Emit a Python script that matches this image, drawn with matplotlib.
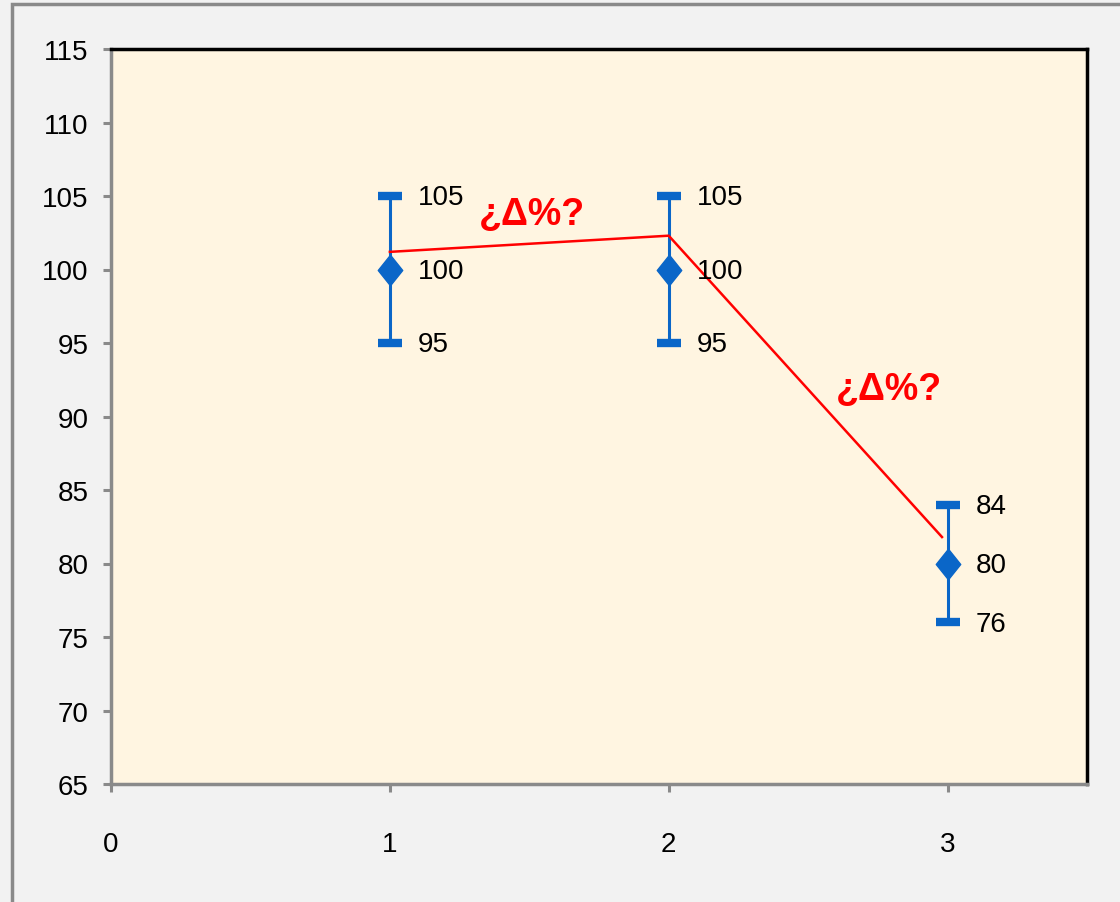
import matplotlib.pyplot as plt
from matplotlib.patches import Rectangle
from matplotlib.path import Path

# data
x_pos = [1, 2, 3]
values = [100, 100, 80]
upper = [105, 105, 84]
lower = [95, 95, 76]

# red "change" line drawn over the chart
delta_x = [1.0, 2.0, 2.98]
delta_y = [101.2, 102.3, 81.8]
delta_label_x = [1.51, 2.79]
delta_label_y = [103.8, 91.9]
delta_text = "¿Δ%?"

y_ticks = list(range(65, 116, 5))
x_ticks = [0, 1, 2, 3]

plt.rcParams['font.family'] = ['Liberation Sans Narrow', 'Liberation Sans', 'DejaVu Sans']

fig = plt.figure(figsize=(11.2, 9.03), dpi=100)
fig.patch.set_facecolor('#f2f2f2')

# outer chart frame
fig.patches.append(Rectangle((12 / 1120, -0.05), 1.1, 1 - 5 / 903 + 0.05,
                             transform=fig.transFigure, fill=False,
                             edgecolor='#8a8a8a', linewidth=2.5, zorder=0))

ax = fig.add_axes([111 / 1120, 1 - 785 / 903, 976 / 1120, 735 / 903])
ax.set_facecolor('#fff5e1')

blue = '#0a66c8'
yerr = [[v - l for v, l in zip(values, lower)], [u - v for u, v in zip(upper, values)]]
diamond = Path([(0, -1), (0.8, 0), (0, 1), (-0.8, 0), (0, -1)],
               [Path.MOVETO, Path.LINETO, Path.LINETO, Path.LINETO, Path.CLOSEPOLY])
ax.errorbar(x_pos, values, yerr=yerr, fmt='none', ecolor=blue,
            elinewidth=2.2, capsize=8.5, capthick=6, zorder=3)
ax.plot(x_pos, values, linestyle='none', marker=diamond, markersize=22,
        color=blue, zorder=4)

ax.plot(delta_x, delta_y, color='#ff0000', linewidth=1.8, zorder=5)
for tx, ty in zip(delta_label_x, delta_label_y):
    ax.text(tx, ty, delta_text, color='#ff0000', fontsize=27, fontweight='bold',
            ha='center', va='center', zorder=6)

for x, v, u, l in zip(x_pos, values, upper, lower):
    for val in (u, v, l):
        ax.annotate(str(val), (x, val), xytext=(20, -1), textcoords='offset points',
                    ha='left', va='center', fontsize=20, color='black', zorder=6)

ax.set_xlim(0, 3.5)
ax.set_ylim(65, 115)
ax.set_xticks(x_ticks)
ax.set_yticks(y_ticks)
ax.tick_params(axis='both', labelsize=20, colors='black')
ax.tick_params(axis='y', length=6, width=2.2, color='#8a8a8a', pad=10)
ax.tick_params(axis='x', length=6, width=2.2, color='#8a8a8a', pad=28)

for side in ('left', 'bottom'):
    ax.spines[side].set_color('#8a8a8a')
    ax.spines[side].set_linewidth(2.5)
for side in ('top', 'right'):
    ax.spines[side].set_color('black')
    ax.spines[side].set_linewidth(2.5)

fig.savefig('out.png', dpi=100, facecolor=fig.get_facecolor())
